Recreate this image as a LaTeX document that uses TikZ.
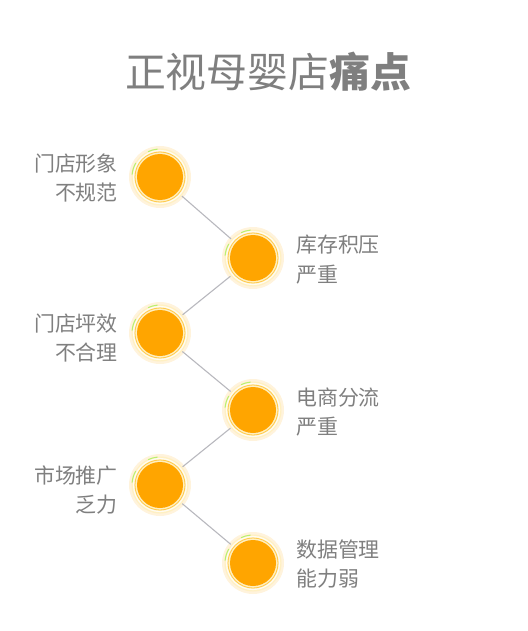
\documentclass[tikz,border=0pt]{standalone}
\usepackage{fontspec}
\setmainfont{Noto Sans CJK SC}
\usetikzlibrary{calc}
\definecolor{txtgray}{HTML}{7F7F7F}
\definecolor{linegray}{HTML}{B8B8BE}
\definecolor{dotorange}{HTML}{FFA500}
\definecolor{glowyellow}{HTML}{FFE9A8}
\definecolor{glowpale}{HTML}{FFF3DC}
\definecolor{glowgreen}{HTML}{B8F070}
\begin{document}
\begin{tikzpicture}[x=1bp,y=-1bp,
  dot/.style={circle,minimum size=46bp,inner sep=0pt,fill=dotorange},
  lbl/.style={font=\fontsize{21}{30}\selectfont,text=txtgray,inner sep=0pt},
  lbll/.style={lbl,align=right,anchor=east},
  lblr/.style={lbl,align=left,anchor=west},
  conn/.style={draw=linegray,line width=1.1bp}]
\useasboundingbox (0,0) rectangle (528,631);
\node[font=\fontsize{41}{46}\selectfont,text=txtgray,inner sep=0pt] (title) at (268,72) {正视母婴店\textbf{痛点}};
% glows
\foreach \cx/\cy in {160/177,253/258,160/333,253/410,160/485,253/563}{
  \fill[glowpale] (\cx,\cy) circle (31);
  \fill[glowyellow!70!white] (\cx,\cy) circle (28.5);
  \draw[white,line width=1.2bp,opacity=0.8] (\cx,\cy) circle (26.5);
  \draw[orange!60!yellow,line width=0.8bp,opacity=0.6] (\cx,\cy) circle (25);
  \draw[glowgreen,line width=1bp] ([shift={(-150:28)}]\cx,\cy) arc[start angle=-150,end angle=-175,radius=28];
  \draw[glowgreen,line width=1bp] ([shift={(-95:28)}]\cx,\cy) arc[start angle=-95,end angle=-115,radius=28];
}
\node[dot] (c1) at (160,177) {};
\node[dot] (c2) at (253,258) {};
\node[dot] (c3) at (160,333) {};
\node[dot] (c4) at (253,410) {};
\node[dot] (c5) at (160,485) {};
\node[dot] (c6) at (253,563) {};
\path[conn] ($(c1)!29bp!(c2)$) coordinate (a1) -- ($(c2)!29bp!(c1)$) coordinate (b1);
\path[conn] ($(c2)!29bp!(c3)$) coordinate (a2) -- ($(c3)!29bp!(c2)$) coordinate (b2);
\path[conn] ($(c3)!29bp!(c4)$) coordinate (a3) -- ($(c4)!29bp!(c3)$) coordinate (b3);
\path[conn] ($(c4)!29bp!(c5)$) coordinate (a4) -- ($(c5)!29bp!(c4)$) coordinate (b4);
\path[conn] ($(c5)!29bp!(c6)$) coordinate (a5) -- ($(c6)!29bp!(c5)$) coordinate (b5);
\node[lbll] (t1) at (118,178) {门店形象\\不规范};
\node[lbll] (t3) at (118,338) {门店坪效\\不合理};
\node[lbll] (t5) at (118,490) {市场推广\\乏力};
\node[lblr] (t2) at (296,260) {库存积压\\严重};
\node[lblr] (t4) at (296,412) {电商分流\\严重};
\node[lblr] (t6) at (296,564) {数据管理\\能力弱};
\end{tikzpicture}
\end{document}
